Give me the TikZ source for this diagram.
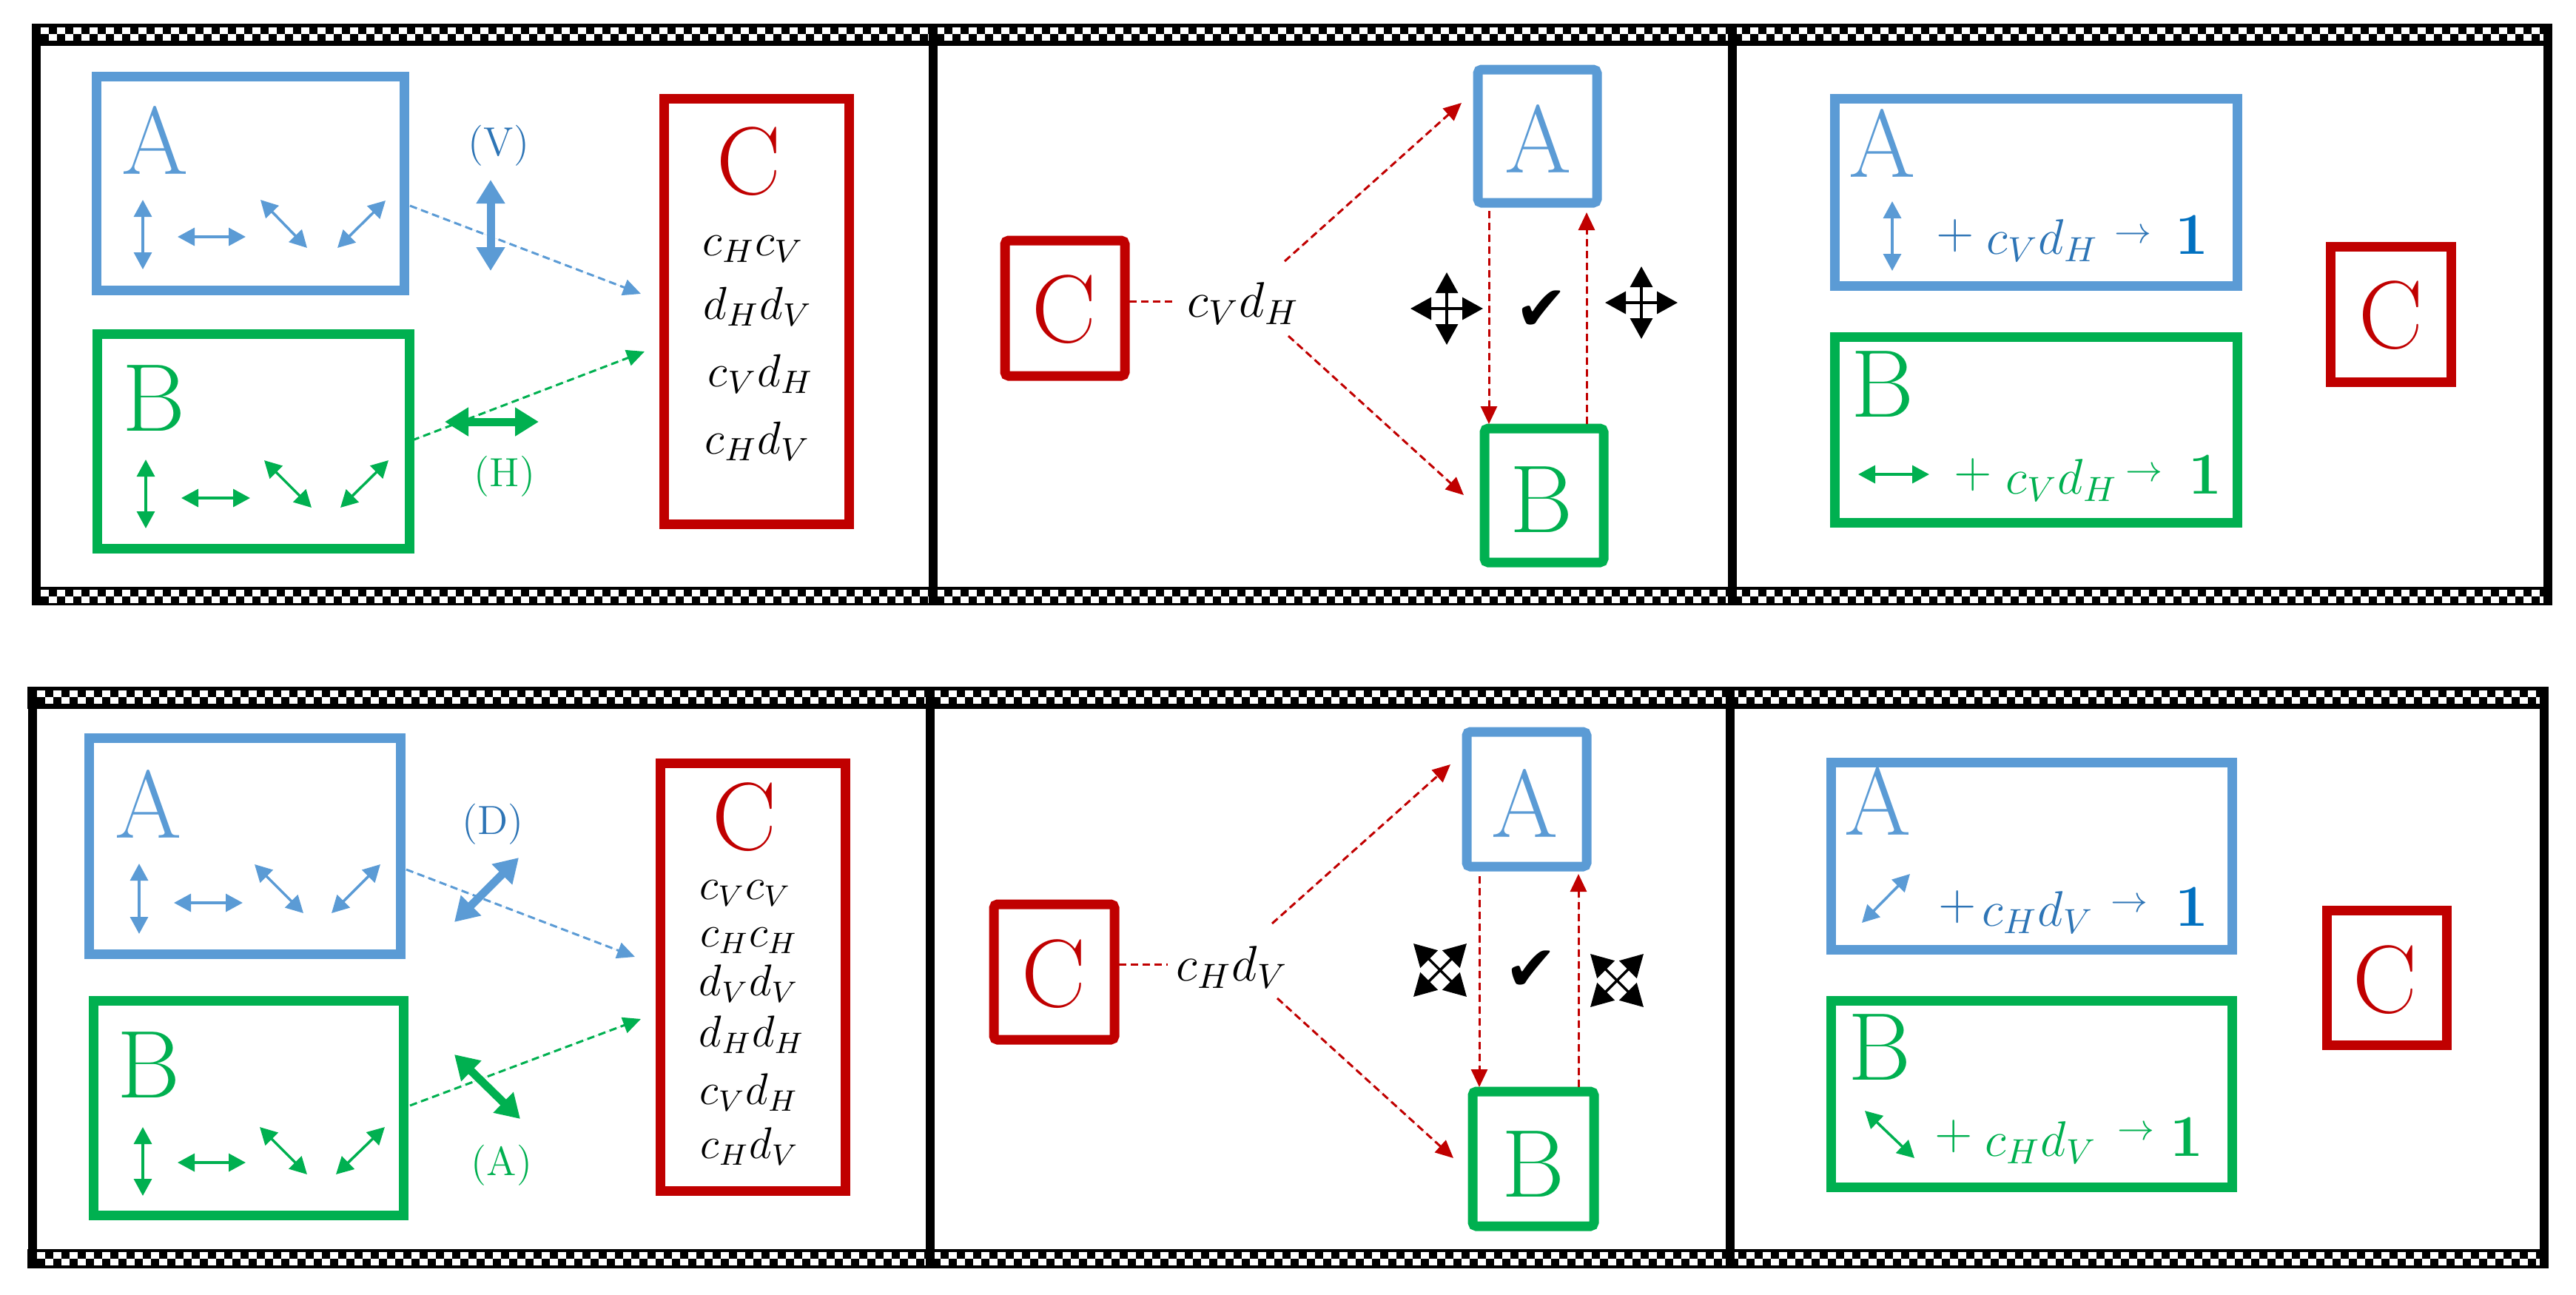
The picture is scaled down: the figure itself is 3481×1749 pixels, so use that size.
\RequirePackage{fix-cm}
\documentclass[tikz,border=0pt]{standalone}
\usepackage{fontspec}
\newfontfamily\dejavu{DejaVu Sans}
\usetikzlibrary{arrows.meta,fit,calc}
\definecolor{cblue}{HTML}{5B9BD5}
\definecolor{cdblue}{HTML}{2E75B6}
\definecolor{cone}{HTML}{0070C0}
\definecolor{cgreen}{HTML}{00B050}
\definecolor{cred}{HTML}{C00000}
\tikzset{
 box/.style={draw, line width=2.6pt, inner sep=0pt, outer sep=0pt},
 bbox/.style={box, draw=cblue},
 gbox/.style={box, draw=cgreen},
 rbox/.style={box, draw=cred},
 big/.style={inner sep=0pt, font=\fontsize{26}{26}\selectfont},
 mtxt/.style={inner sep=0pt, font=\fontsize{12.5}{12.5}\selectfont},
 stxt/.style={inner sep=0pt, font=\fontsize{12}{12}\selectfont},
 ltxt/.style={inner sep=0pt, font=\fontsize{13.5}{13.5}\selectfont},
 lbl/.style={inner sep=0pt, font=\fontsize{11}{11}\selectfont},
 arw/.style={inner sep=0pt, font=\fontsize{10}{10}\selectfont},
 one/.style={inner sep=0pt, font=\fontsize{16}{16}\selectfont\bfseries},
 chk/.style={white, line width=1.8pt, dash pattern=on 2.2pt off 2.2pt},
 vline/.style={black, line width=2.4pt},
 thintwo/.style={line width=0.7pt, {Triangle[width=4.8pt,length=4.6pt]}-{Triangle[width=4.8pt,length=4.6pt]}},
 thicktwo/.style={line width=2.2pt, {Triangle[width=7.4pt,length=6.4pt]}-{Triangle[width=7.4pt,length=6.4pt]}},
 dashone/.style={line width=0.6pt, dash pattern=on 2pt off 1.2pt, -{Triangle[width=4.4pt,length=4.8pt]}},
 dashzero/.style={line width=0.6pt, dash pattern=on 2pt off 1.2pt},
 icon/.style={black, line width=0.7pt, {Triangle[width=6pt,length=5.6pt]}-{Triangle[width=6pt,length=5.6pt]}},
 icond/.style={black, line width=0.7pt, {Triangle[width=6.6pt,length=6pt]}-{Triangle[width=6.6pt,length=6pt]}},
 checkm/.style={inner sep=0pt, font=\fontsize{17}{17}\dejavu},
}
\begin{document}
\begin{tikzpicture}[x=0.2pt,y=-0.2pt]
\useasboundingbox (0,0) rectangle (3481,1749);

% ---------- frames ----------
% top row
\fill (43,32) rectangle (3449,62);
\fill (43,793) rectangle (3449,818);
\draw[chk] (55,41.5) -- (3437,41.5);
\draw[chk, dash phase=2.2pt] (55,50.5) -- (3437,50.5);
\draw[chk] (55,801) -- (3437,801);
\draw[chk, dash phase=2.2pt] (55,810) -- (3437,810);
\foreach \xx in {49,1261,2341,3443} \draw[vline] (\xx,32) -- (\xx,818);
% bottom row
\fill (37,928) rectangle (3444,958);
\fill (37,1688) rectangle (3444,1714);
\draw[chk] (50,937.5) -- (3432,937.5);
\draw[chk, dash phase=2.2pt] (50,946.5) -- (3432,946.5);
\draw[chk] (50,1696.5) -- (3432,1696.5);
\draw[chk, dash phase=2.2pt] (50,1705.5) -- (3432,1705.5);
\foreach \xx in {44,1257,2338,3438} \draw[vline] (\xx,928) -- (\xx,1714);

% ========== TOP ROW ==========
% --- panel 1 ---
\node[bbox, fit={(130,103)(546,392)}] (A1) {};
\node[big, text=cblue] (A1t) at (209.5,189.5) {A};
\node[gbox, fit={(131,451)(553,741)}] (B1) {};
\node[big, text=cgreen] (B1t) at (208,538) {B};
\node[rbox, fit={(897,133)(1147,708)}] (C1) {};
\node[big, text=cred] (C1t) at (1012,218) {C};
\node[mtxt, anchor=base] (C1a) at (1018,345) {$c_Hc_V$};
\node[mtxt, anchor=base] (C1b) at (1024,431) {$d_Hd_V$};
\node[mtxt, anchor=base] (C1c) at (1028,522) {$c_Vd_H$};
\node[mtxt, anchor=base] (C1d) at (1024,613) {$c_Hd_V$};
\begin{scope}[cblue]
\draw[thintwo, fill=cblue] (193,270) -- (193,364);
\draw[thintwo, fill=cblue] (240,320) -- (332,320);
\draw[thintwo, fill=cblue] (352,270) -- (415,335);
\draw[thintwo, fill=cblue] (456,335) -- (521,271);
\draw[thicktwo, fill=cblue] (663,243) -- (663,366);
\end{scope}
\begin{scope}[cgreen]
\draw[thintwo, fill=cgreen] (197,621) -- (197,714);
\draw[thintwo, fill=cgreen] (245,673) -- (338,673);
\draw[thintwo, fill=cgreen] (357,622) -- (421,686);
\draw[thintwo, fill=cgreen] (460,686) -- (525,622);
\draw[thicktwo, fill=cgreen] (601,570) -- (728,570);
\end{scope}
\node[lbl, text=cdblue] (V1) at (674,197) {(V)};
\node[lbl, text=cgreen] (H1) at (682,644) {(H)};
\draw[dashone, cblue, fill=cblue] ($(A1.east)+(8,30.5)$) -- ($(C1.west)+(-31,-23.5)$);
\draw[dashone, cgreen, fill=cgreen] ($(B1.east)+(4,-1)$) -- ($(C1.west)+(-26,54.5)$);

% --- panel 2 ---
\node[rbox, rounded corners=1pt, fit={(1358,325)(1520,508)}] (C2) {};
\node[big, text=cred] (C2t) at (1438,418) {C};
\node[bbox, rounded corners=1pt, fit={(1997,94)(2158,274)}] (A2) {};
\node[big, text=cblue] (A2t) at (2079,188) {A};
\node[gbox, rounded corners=1pt, fit={(2006,579)(2167,760)}] (B2) {};
\node[big, text=cgreen] (B2t) at (2083,675) {B};
\node[ltxt] (L2) at (1680,410) {$c_Vd_H$};
\coordinate (c2e) at ($(C2.east)+(6,-9.5)$);
\draw[dashzero, cred] (c2e) -- ($(c2e -| L2.west)+(-15,0)$);
\draw[dashone, cred, fill=cred] ($(L2.center)+(56,-57)$) -- ($(A2.west)+(-22,-45)$);
\draw[dashone, cred, fill=cred] ($(L2.center)+(61,44)$) -- ($(B2.west)+(-28,-0.5)$);
\coordinate (d1) at ($(A2.south west)+(15,11)$);
\draw[dashone, cred, fill=cred, shorten >=1.2pt] (d1) -- (d1 |- B2.north);
\coordinate (u1) at ($(B2.north east)+(-23,-6)$);
\draw[dashone, cred, fill=cred, shorten >=2.6pt] (u1) -- (u1 |- A2.south);
\coordinate (I1) at (1955,417);
\coordinate (I2) at (2218,409);
\draw[icon, fill=black] ($(I1)+(-49,0)$) -- ($(I1)+(49,0)$);
\draw[icon, fill=black] ($(I1)+(0,-49)$) -- ($(I1)+(0,49)$);
\draw[icon, fill=black] ($(I2)+(-49,0)$) -- ($(I2)+(49,0)$);
\draw[icon, fill=black] ($(I2)+(0,-49)$) -- ($(I2)+(0,49)$);
\node[checkm] (K1) at (2083,420) {✔};

% --- panel 3 ---
\node[bbox, fit={(2479,133)(3023,386)}] (A3) {};
\node[big, text=cblue] (A3t) at (2544,194) {A};
\draw[thintwo, cblue, fill=cblue] (2557,272) -- (2557,366);
\node[ltxt, text=cdblue] (A3p) at (2642,319) {$+$};
\node[ltxt, text=cdblue, anchor=base] (A3e) at (2760,343) {$c_Vd_H$};
\node[arw, text=cdblue] (A3r) at (2882,319) {$\rightarrow$};
\node[one, text=cone, anchor=base] (A3o) at (2962,343) {1};
\node[gbox, fit={(2479,455)(3023,706)}] (B3) {};
\node[big, text=cgreen] (B3t) at (2544,519) {B};
\draw[thintwo, cgreen, fill=cgreen] (2511,641) -- (2607,641);
\node[ltxt, text=cgreen] (B3p) at (2666,642) {$+$};
\node[ltxt, text=cgreen, anchor=base] (B3e) at (2786,667) {$c_Vd_H$};
\node[arw, text=cgreen] (B3r) at (2897,641) {$\rightarrow$};
\node[one, text=cgreen, anchor=base] (B3o) at (2980,667) {1};
\node[rbox, fit={(3149,333)(3312,516)}] (C3) {};
\node[big, text=cred] (C3t) at (3231,426) {C};

% ========== BOTTOM ROW ==========
% --- panel 1 ---
\node[bbox, fit={(120,997)(541,1289)}] (A4) {};
\node[big, text=cblue] (A4t) at (201,1087) {A};
\node[gbox, fit={(126,1352)(545,1642)}] (B4) {};
\node[big, text=cgreen] (B4t) at (201,1439) {B};
\node[rbox, fit={(892,1031)(1142,1609)}] (C4) {};
\node[big, text=cred] (C4t) at (1006,1104) {C};
\node[stxt, anchor=base] (C4a) at (1007,1215) {$c_Vc_V$};
\node[stxt, anchor=base] (C4b) at (1012,1279) {$c_Hc_H$};
\node[stxt, anchor=base] (C4c) at (1012,1345) {$d_Vd_V$};
\node[stxt, anchor=base] (C4d) at (1016,1414) {$d_Hd_H$};
\node[stxt, anchor=base] (C4e) at (1012,1492) {$c_Vd_H$};
\node[stxt, anchor=base] (C4f) at (1013,1565) {$c_Hd_V$};
\begin{scope}[cblue]
\draw[thintwo, fill=cblue] (188,1167) -- (188,1262);
\draw[thintwo, fill=cblue] (235,1220) -- (328,1220);
\draw[thintwo, fill=cblue] (344,1168) -- (410,1234);
\draw[thintwo, fill=cblue] (448,1234) -- (514,1168);
\draw[thicktwo, fill=cblue] (614,1246) -- (701,1159);
\end{scope}
\begin{scope}[cgreen]
\draw[thintwo, fill=cgreen] (193,1523) -- (193,1616);
\draw[thintwo, fill=cgreen] (240,1571) -- (332,1571);
\draw[thintwo, fill=cgreen] (351,1523) -- (415,1587);
\draw[thintwo, fill=cgreen] (454,1587) -- (520,1523);
\draw[thicktwo, fill=cgreen] (614,1425) -- (703,1512);
\end{scope}
\node[lbl, text=cdblue] (D4) at (666,1114) {(D)};
\node[lbl, text=cgreen] (Aa4) at (678,1575) {(A)};
\draw[dashone, cblue, fill=cblue] ($(A4.east)+(8,32)$) -- ($(C4.west)+(-34,-27)$);
\draw[dashone, cgreen, fill=cgreen] ($(B4.east)+(9,-3)$) -- ($(C4.west)+(-26,57)$);

% --- panel 2 ---
\node[rbox, rounded corners=1pt, fit={(1343,1222)(1506,1405)}] (C5) {};
\node[big, text=cred] (C5t) at (1424,1316) {C};
\node[bbox, rounded corners=1pt, fit={(1982,989)(2144,1171)}] (A5) {};
\node[big, text=cblue] (A5t) at (2061,1086) {A};
\node[gbox, rounded corners=1pt, fit={(1990,1475)(2154,1657)}] (B5) {};
\node[big, text=cgreen] (B5t) at (2072,1573) {B};
\node[ltxt] (L5) at (1665,1307) {$c_Hd_V$};
\coordinate (c5e) at ($(C5.east)+(6,-10.5)$);
\draw[dashzero, cred] (c5e) -- ($(c5e -| L5.west)+(-11,0)$);
\draw[dashone, cred, fill=cred] ($(L5.center)+(54,-59)$) -- ($(A5.west)+(-22,-47)$);
\draw[dashone, cred, fill=cred] ($(L5.center)+(61,42)$) -- ($(B5.west)+(-26,-1)$);
\coordinate (d2) at ($(A5.south west)+(17,13)$);
\draw[dashone, cred, fill=cred, shorten >=1.2pt] (d2) -- (d2 |- B5.north);
\coordinate (u2) at ($(B5.north east)+(-21,-6)$);
\draw[dashone, cred, fill=cred, shorten >=2pt] (u2) -- (u2 |- A5.south);
\coordinate (I3) at (1946,1311);
\coordinate (I4) at (2185,1325);
\draw[icond, fill=black] ($(I3)+(-36,-36)$) -- ($(I3)+(36,36)$);
\draw[icond, fill=black] ($(I3)+(-36,36)$) -- ($(I3)+(36,-36)$);
\draw[icond, fill=black] ($(I4)+(-36,-36)$) -- ($(I4)+(36,36)$);
\draw[icond, fill=black] ($(I4)+(-36,36)$) -- ($(I4)+(36,-36)$);
\node[checkm] (K2) at (2069,1312) {✔};

% --- panel 3 ---
\node[bbox, fit={(2474,1030)(3016,1283)}] (A6) {};
\node[big, text=cblue] (A6t) at (2538,1083) {A};
\draw[thintwo, cblue, fill=cblue] (2516,1247) -- (2581,1181);
\node[ltxt, text=cdblue] (A6p) at (2645,1226) {$+$};
\node[ltxt, text=cdblue, anchor=base] (A6e) at (2754,1251) {$c_Hd_V$};
\node[arw, text=cdblue] (A6r) at (2877,1223) {$\rightarrow$};
\node[one, text=cone, anchor=base] (A6o) at (2962,1251) {1};
\node[gbox, fit={(2474,1352)(3016,1604)}] (B6) {};
\node[big, text=cgreen] (B6t) at (2540,1415) {B};
\draw[thintwo, cgreen, fill=cgreen] (2520,1501) -- (2587,1565);
\node[ltxt, text=cgreen] (B6p) at (2640,1536) {$+$};
\node[ltxt, text=cgreen, anchor=base] (B6e) at (2758,1562) {$c_Hd_V$};
\node[arw, text=cgreen] (B6r) at (2886,1531) {$\rightarrow$};
\node[one, text=cgreen, anchor=base] (B6o) at (2955,1562) {1};
\node[rbox, fit={(3144,1230)(3306,1412)}] (C6) {};
\node[big, text=cred] (C6t) at (3223,1324) {C};
\end{tikzpicture}
\end{document}
